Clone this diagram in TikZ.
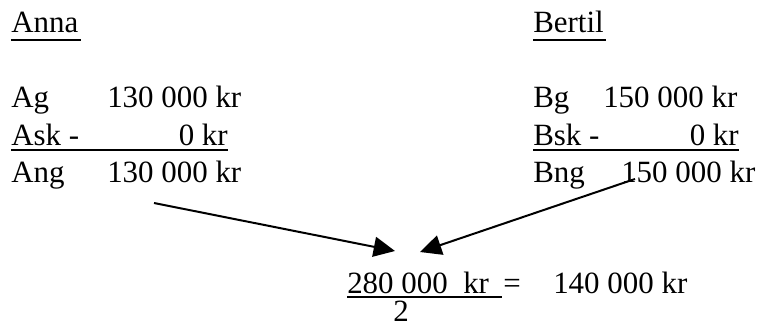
\documentclass[tikz,border=0pt]{standalone}
\usepackage{fontspec}
\setmainfont{Liberation Serif}
\usetikzlibrary{arrows.meta}

\tikzset{
  txt/.style={anchor=base west,inner sep=0pt,font=\fontsize{23.2}{27}\selectfont},
  txtr/.style={txt,anchor=base east},
  uline/.style={line width=1.5pt},
  arr/.style={line width=1.5pt,-{Triangle[length=16pt,width=15pt]}}
}

\begin{document}
\begin{tikzpicture}[x=0.75pt,y=0.75pt,yscale=-1,xscale=1]
\useasboundingbox (0,0) rectangle (758,329);

% Text Node
\node [txt] (anna) at (11,32) {Anna};
\node [txt] (bertil) at (533,32) {Bertil};
%Straight Lines
\draw [uline] (11,39.5) -- (81,39.5) ;
\draw [uline] (533,39.5) -- (606,39.5) ;

% Text Node
\node [txt] (ag) at (11,107) {Ag};
\node [txt] (agval) at (107,107) {130 000 kr};
\node [txt] (ask) at (11,145) {Ask -};
\node [txtr] (askval) at (228,145) {0 kr};
\node [txt] (ang) at (11,182) {Ang};
\node [txt] (angval) at (107,182) {130 000 kr};
%Straight Lines
\draw [uline] (11,149.5) -- (228,149.5) ;

% Text Node
\node [txt] (bg) at (533,107) {Bg};
\node [txt] (bgval) at (603,107) {150 000 kr};
\node [txt] (bsk) at (533,145) {Bsk -};
\node [txtr] (bskval) at (739,145) {0 kr};
\node [txt] (bng) at (533,182) {Bng};
\node [txt] (bngval) at (621,182) {150 000 kr};
%Straight Lines
\draw [uline] (533,149.5) -- (739,149.5) ;

% Text Node
\node [txt] (sum) at (347,293) {280 000~~kr};
\node [txt] (eq) at (503,293) {=};
\node [txt] (half) at (553,293) {140 000 kr};
\node [txt] (two) at (393,321) {2};
%Straight Lines
\draw [uline] (347,296.5) -- (502,296.5) ;

%Straight Lines
\coordinate (astart) at (154,203);
\coordinate (atip) at (395,251);
\coordinate (bstart) at (635,179);
\coordinate (btip) at (420,252);
\draw [arr] (astart) -- (atip) ;
\draw [arr] (bstart) -- (btip) ;
\end{tikzpicture}
\end{document}
